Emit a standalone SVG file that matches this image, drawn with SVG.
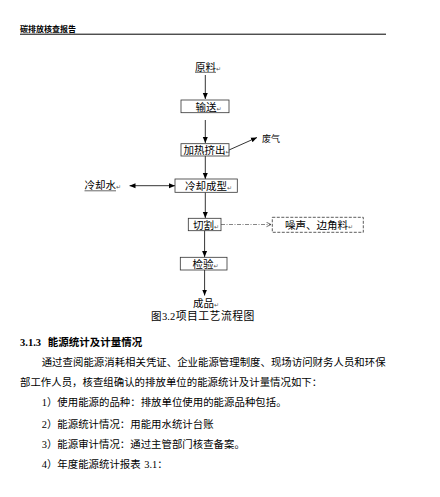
<svg xmlns="http://www.w3.org/2000/svg" width="440" height="497" viewBox="0 0 440 497">
<style>
text{font-family:"Liberation Serif","Noto Sans CJK SC",serif;fill:#000}
.lb{font-size:10.5px}
.box{fill:#fff;stroke:#333;stroke-width:0.8}
.dbox{fill:#fff;stroke:#333;stroke-width:0.8;stroke-dasharray:3 1.5}
.ln{stroke:#000;stroke-width:0.8;fill:none}
.pm{font-size:6px;fill:#555;font-family:"DejaVu Sans",sans-serif}
.body{font-size:10.4px}
</style>
<defs>
<marker id="ah" viewBox="0 0 6 6" refX="6" refY="3" markerWidth="6" markerHeight="6" markerUnits="userSpaceOnUse" orient="auto-start-reverse"><path d="M0,0.5 L6,3 L0,5.5 Z" fill="#000"/></marker>
<marker id="oa" viewBox="0 0 6 6" refX="5.5" refY="3" markerWidth="6" markerHeight="6" markerUnits="userSpaceOnUse" orient="auto"><path d="M1,0.8 L5.5,3 L1,5.2" fill="none" stroke="#333" stroke-width="0.7"/></marker>
</defs>
<rect width="440" height="497" fill="#fff"/>
<g id="header">
<text x="20" y="32" style="font-size:8px;font-weight:bold">碳排放核查报告</text>
<line x1="20" y1="34.2" x2="386" y2="34.2" stroke="#000" stroke-width="1"/>
</g>
<g id="connectors">
<line class="ln" x1="205.3" y1="75" x2="205.3" y2="99" marker-end="url(#ah)"/>
<line class="ln" x1="205.3" y1="120" x2="205.3" y2="143" marker-end="url(#ah)"/>
<line class="ln" x1="229" y1="150" x2="257" y2="137.5" marker-end="url(#ah)"/>
<line class="ln" x1="205.3" y1="156" x2="205.3" y2="179" marker-end="url(#ah)"/>
<line class="ln" x1="129.5" y1="185.7" x2="175" y2="185.7" marker-start="url(#ah)" marker-end="url(#ah)"/>
<line class="ln" x1="205.3" y1="192.3" x2="205.3" y2="218" marker-end="url(#ah)"/>
<line x1="221" y1="224.5" x2="271" y2="224.5" stroke="#333" stroke-width="0.6" stroke-dasharray="4 1.5 1 1.5" marker-end="url(#oa)"/>
<line class="ln" x1="204.6" y1="230.7" x2="204.6" y2="257" marker-end="url(#ah)"/>
<line class="ln" x1="204.6" y1="270" x2="204.6" y2="295.5" marker-end="url(#ah)"/>
</g>
<g id="n-yuanliao">
<text class="lb" x="195" y="70.5">原料<tspan class="pm">↵</tspan></text>
<line x1="195" y1="72.3" x2="216" y2="72.3" stroke="#000" stroke-width="0.6"/>
</g>
<g id="n-shusong">
<rect class="box" x="181" y="100" width="48" height="12.7"/>
<text class="lb" x="195.5" y="110.5">输送<tspan class="pm">↵</tspan></text>
</g>
<g id="n-jiare">
<rect class="box" x="181" y="143.7" width="48" height="12.3"/>
<text class="lb" x="183.5" y="154">加热挤出<tspan class="pm">↵</tspan></text>
</g>
<g id="n-feiqi">
<text x="262" y="141.5" style="font-size:9px">废气</text>
</g>
<g id="n-lengque">
<rect class="box" x="175" y="179" width="62.3" height="13.3"/>
<text class="lb" x="185" y="189.5">冷却成型<tspan class="pm">↵</tspan></text>
</g>
<g id="n-lengqueshui">
<text class="lb" x="84.5" y="189">冷却水<tspan class="pm">↵</tspan></text>
<line x1="84.5" y1="190.8" x2="116" y2="190.8" stroke="#000" stroke-width="0.6"/>
</g>
<g id="n-qiege">
<rect class="box" x="188.3" y="218.3" width="32.7" height="12.4"/>
<text class="lb" x="193" y="228.5">切割<tspan class="pm">↵</tspan></text>
</g>
<g id="n-zaosheng">
<rect class="dbox" x="272.3" y="217.3" width="91" height="15"/>
<text class="lb" x="285" y="228.5">噪声、边角料<tspan class="pm">↵</tspan></text>
</g>
<g id="n-jianyan">
<rect class="box" x="180.3" y="257.3" width="46.7" height="12.7"/>
<text class="lb" x="192.5" y="267.8">检验<tspan class="pm">↵</tspan></text>
</g>
<g id="n-chengpin">
<text class="lb" x="193" y="307">成品<tspan class="pm">↵</tspan></text>
</g>
<g id="caption">
<text class="lb" y="319.5"><tspan x="151">图</tspan><tspan x="162">3.2</tspan><tspan style="font-size:10.8px" x="175.7 187 198.3 209.6 220.9 232.2 243.5">项目工艺流程图</tspan></text>
</g>
<g id="body">
<text x="20" y="345.5" style="font-size:10.5px;font-weight:bold">3.1.3<tspan x="47.7 58.2 68.7 79.2 89.7 100.2 110.7 121.2 131.7">能源统计及计量情况</tspan></text>
<text class="body" y="366" x="41.7 52.12 62.54 72.96 83.38 93.8 104.22 114.64 125.06 135.48 145.9 156.32 166.74 177.16 187.58 198 208.42 218.84 229.26 239.68 250.1 260.52 270.94 281.36 291.78 302.2 312.62 323.04 333.46 343.88 354.3 364.72 375.14">通过查阅能源消耗相关凭证、企业能源管理制度、现场访问财务人员和环保</text>
<text class="body" y="386" x="20 30.42 40.84 51.26 61.68 72.1 82.52 92.94 103.36 113.78 124.2 134.62 145.04 155.46 165.88 176.3 186.72 197.14 207.56 217.98 228.4 238.82 249.24 259.66 270.08 280.5 290.92 301.34 311.76">部工作人员，核查组确认的排放单位的能源统计及计量情况如下：</text>
<text class="body" y="406" x="41.7 46.9 57.32 67.74 78.16 88.58 99 109.42 119.84 130.26 140.68 151.1 161.52 171.94 182.36 192.78 203.2 213.62 224.04 234.46 244.88 255.3 265.72 276.14">1）使用能源的品种：排放单位使用的能源品种包括。</text>
<text class="body" y="427.5" x="41.7 46.9 57.32 67.74 78.16 88.58 99 109.42 119.84 130.26 140.68 151.1 161.52 171.94 182.36 192.78 203.2">2）能源统计情况：用能用水统计台账</text>
<text class="body" y="447.5" x="41.7 46.9 57.32 67.74 78.16 88.58 99 109.42 119.84 130.26 140.68 151.1 161.52 171.94 182.36 192.78 203.2 213.62 224.04 234.46">3）能源审计情况：通过主管部门核查备案。</text>
<text class="body" y="468" x="41.7 46.9 57.32 67.74 78.16 88.58 99 109.42 119.84 130.26 140.68 144.3">4）年度能源统计报表 3.1：</text>
</g>
</svg>
